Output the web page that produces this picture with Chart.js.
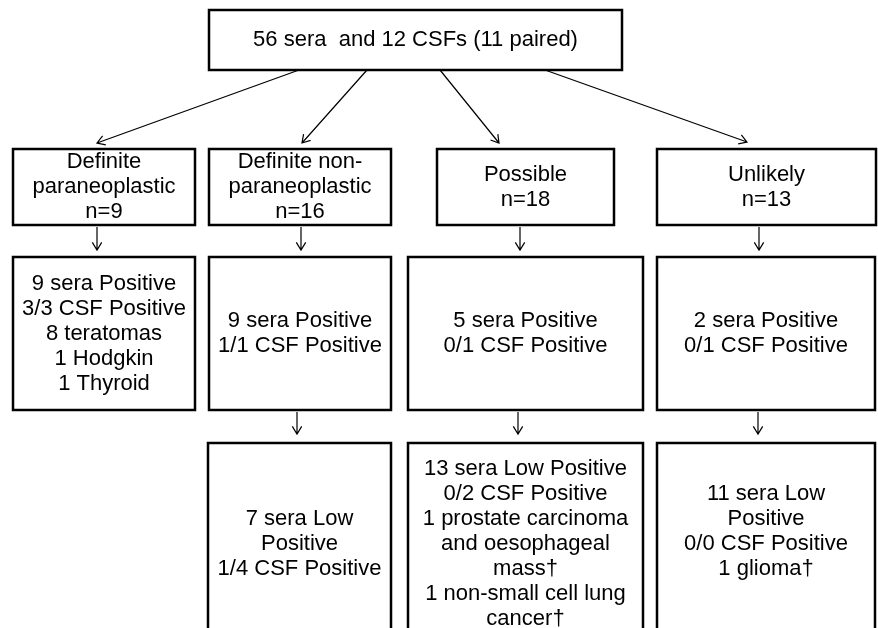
<!DOCTYPE html>
<html>
<head>
<meta charset="utf-8">
<script src="https://cdn.jsdelivr.net/npm/chart.js@4"></script>
<style>
  html, body { margin: 0; padding: 0; background: #fff; }
  #flow { display: block; }
</style>
</head>
<body>
<canvas id="flow" width="878" height="628"></canvas>
<script>
// texts of the flow chart, one entry per box
const rootText = ['56 sera  and 12 CSFs (11 paired)'];
const groupText = [
  ['Definite', 'paraneoplastic', 'n=9'],
  ['Definite non-', 'paraneoplastic', 'n=16'],
  ['Possible', 'n=18'],
  ['Unlikely', 'n=13'],
];
const positiveText = [
  ['9 sera Positive', '3/3 CSF Positive', '8 teratomas', '1 Hodgkin', '1 Thyroid'],
  ['9 sera Positive', '1/1 CSF Positive'],
  ['5 sera Positive', '0/1 CSF Positive'],
  ['2 sera Positive', '0/1 CSF Positive'],
];
const lowPositiveText = [
  null,
  ['7 sera Low', 'Positive', '1/4 CSF Positive'],
  ['13 sera Low Positive', '0/2 CSF Positive', '1 prostate carcinoma', 'and oesophageal', 'mass\u2020', '1 non-small cell lung', 'cancer\u2020'],
  ['11 sera Low', 'Positive', '0/0 CSF Positive', '1 glioma\u2020', ''],
];

// layout (axis units, [left, top, right, bottom])
const rootBox = [209, 10, 622, 70];
const groupBoxes = [[13, 149, 195, 225], [209, 149, 391, 225], [437, 149, 614, 225], [657, 149, 876, 225]];
const positiveBoxes = [[13, 257, 195, 410], [209, 257, 391, 410], [408, 257, 643, 410], [657, 257, 875, 410]];
const lowBoxes = [null, [208, 443, 391, 645], [408, 443, 643, 645], [657, 443, 875, 645]];
const rootArrows = [[299, 70, 97, 143], [367, 70, 302, 143], [440, 70, 499, 143], [545, 70, 747, 142]];
const downX1 = [97, 301, 520, 759];
const downX2 = [null, 297, 518, 758];

const FONT = '22px "Liberation Sans", Arial, sans-serif';
const LINE_H = 25;

function drawBox(ctx, sx, sy, box, lines) {
  const l = sx.getPixelForValue(box[0]);
  const t = sy.getPixelForValue(box[1]);
  const r = sx.getPixelForValue(box[2]);
  const b = sy.getPixelForValue(box[3]);
  ctx.lineWidth = 2.5;
  ctx.strokeStyle = '#000';
  ctx.strokeRect(l, t, r - l, b - t);

  const cx = (l + r) / 2;
  const y0 = (t + b) / 2 - (lines.length - 1) * LINE_H / 2;
  ctx.fillStyle = '#000';
  ctx.font = FONT;
  ctx.textAlign = 'center';
  ctx.textBaseline = 'middle';
  lines.forEach((s, i) => ctx.fillText(s, cx, y0 + i * LINE_H));
}

function drawArrow(ctx, sx, sy, a) {
  const x1 = sx.getPixelForValue(a[0]), y1 = sy.getPixelForValue(a[1]);
  const x2 = sx.getPixelForValue(a[2]), y2 = sy.getPixelForValue(a[3]);
  const ang = Math.atan2(y2 - y1, x2 - x1);
  const head = 9;
  ctx.lineWidth = 1.2;
  ctx.strokeStyle = '#000';
  ctx.beginPath();
  ctx.moveTo(x1, y1);
  ctx.lineTo(x2, y2);
  ctx.moveTo(x2 - head * Math.cos(ang - 0.55), y2 - head * Math.sin(ang - 0.55));
  ctx.lineTo(x2, y2);
  ctx.lineTo(x2 - head * Math.cos(ang + 0.55), y2 - head * Math.sin(ang + 0.55));
  ctx.stroke();
}

const flowPlugin = {
  id: 'flow',
  afterDatasetsDraw(chart) {
    const ctx = chart.ctx;
    const sx = chart.scales.x;
    const sy = chart.scales.y;
    ctx.save();
    drawBox(ctx, sx, sy, rootBox, rootText);
    groupText.forEach((g, i) => drawBox(ctx, sx, sy, groupBoxes[i], g));
    positiveText.forEach((g, i) => drawBox(ctx, sx, sy, positiveBoxes[i], g));
    lowPositiveText.forEach((g, i) => { if (g) drawBox(ctx, sx, sy, lowBoxes[i], g); });
    rootArrows.forEach((a) => drawArrow(ctx, sx, sy, a));
    downX1.forEach((x) => drawArrow(ctx, sx, sy, [x, 227, x, 250]));
    downX2.forEach((x) => { if (x) drawArrow(ctx, sx, sy, [x, 412, x, 434]); });
    ctx.restore();
  },
};

// node centres as (invisible) points, so the chart has its scales
const centres = [rootBox].concat(groupBoxes, positiveBoxes, lowBoxes.filter(Boolean))
  .map((b) => ({ x: (b[0] + b[2]) / 2, y: (b[1] + b[3]) / 2 }));

new Chart(document.getElementById('flow'), {
  type: 'scatter',
  data: { datasets: [{ data: centres, pointRadius: 0 }] },
  options: {
    responsive: false,
    animation: false,
    layout: { padding: 0 },
    plugins: { legend: { display: false }, tooltip: { enabled: false } },
    scales: {
      x: { type: 'linear', min: 0, max: 878, display: false },
      y: { type: 'linear', min: 0, max: 628, reverse: true, display: false },
    },
  },
  plugins: [flowPlugin],
});
</script>
</body>
</html>
